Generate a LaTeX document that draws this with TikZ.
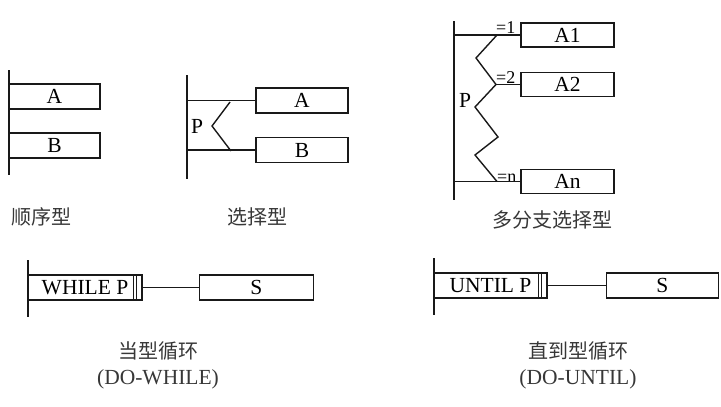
\documentclass[tikz,border=0pt]{standalone}
\usepackage{fontspec}
\setmainfont{Liberation Serif}
\newfontfamily\cjk{Noto Sans CJK SC}
\usetikzlibrary{positioning}
\definecolor{linecol}{RGB}{25, 25, 25}
\definecolor{captcol}{RGB}{55, 55, 55}

\begin{document}
\begin{tikzpicture}[x=1pt, y=-1pt, every node/.style={font=\fontsize{21.5}{24}\selectfont}]
    \tikzstyle{block} = [draw, rectangle, minimum width=92pt, minimum height=25pt, inner sep=0pt, text centered, draw=linecol, line width=1.4pt]
    \tikzstyle{bar} = [draw=linecol, line width=2pt]
    \tikzstyle{wire} = [draw=linecol, line width=1.4pt]
    \tikzstyle{tag} = [font=\fontsize{18}{20}\selectfont, inner sep=0.5pt, anchor=south east]
    \tikzstyle{caption} = [text=captcol, align=center, font=\cjk\fontsize{20}{26}\selectfont]

    \useasboundingbox (0,0) rectangle (721,407);

    % Nodes
    \node (seqA) [block, minimum width=91pt] at (54.5,96.5) {A};
    \node (seqB) [block, minimum width=91pt, below of=seqA, node distance=49pt] {B};
    \node (selA) [block] at (302,100.5) {A};
    \node (selB) [block, below of=selA, node distance=49.5pt] {B};
    \node (selP) at (197,126) {P};
    \node (mulA1) [block, minimum width=93pt, minimum height=24pt] at (567.5,35) {A1};
    \node (mulA2) [block, minimum width=93pt, minimum height=24pt, below of=mulA1, node distance=49.5pt] {A2};
    \node (mulAn) [block, minimum width=93pt, minimum height=24pt, below of=mulA2, node distance=97pt] {An};
    \node (mulP) at (465,100) {P};
    \node (tag1) [tag] at (516,34) {=1};
    \node (tag2) [tag] at (516,84) {=2};
    \node (tagn) [tag] at (517,183) {=n};
    \node (whileP) [block, minimum width=114pt] at (85,287.5) {WHILE P\hspace{9pt}};
    \node (whileS) [block, minimum width=114pt, right=56pt of whileP] {S};
    \node (untilP) [block, minimum width=113pt] at (490.5,285.5) {UNTIL P\hspace{9pt}};
    \node (untilS) [block, minimum width=112pt, right=58pt of untilP] {S};

    % Captions
    \node (seqCap) [caption] at (42,217) {顺序型};
    \node (selCap) [caption] at (257,217) {选择型};
    \node (mulCap) [caption] at (552,220) {多分支选择型};
    \node (whileCap) [caption] at (158,365) {当型循环\\{\rmfamily\fontsize{21.5}{26}\selectfont (DO-WHILE)}};
    \node (untilCap) [caption] at (578,365) {直到型循环\\{\rmfamily\fontsize{21.5}{26}\selectfont (DO-UNTIL)}};

    % Bars
    \coordinate (seqTop) at (9,70);
    \coordinate (seqBot) at (9,175);
    \coordinate (selTop) at (187,75);
    \coordinate (selBot) at (187,179);
    \coordinate (mulTop) at (454,21);
    \coordinate (mulBot) at (454,200);
    \coordinate (whileTop) at (28,260);
    \coordinate (whileBot) at (28,317);
    \coordinate (untilTop) at (434,258);
    \coordinate (untilBot) at (434,315);
    \draw [bar] (seqTop) -- (seqBot);
    \draw [bar] (selTop) -- (selBot);
    \draw [bar] (mulTop) -- (mulBot);
    \draw [bar] (whileTop) -- (whileBot);
    \draw [bar] (untilTop) -- (untilBot);

    % Lines
    \draw [wire] (selTop |- selA.west) -- (selA.west);
    \draw [wire] (selTop |- selB.west) -- (selB.west);
    \draw [wire] (230,102) -- (212,126) -- (231,151);
    \draw [wire] (mulTop |- mulA1.west) -- (mulA1.west);
    \draw [wire] (mulTop |- mulAn.west) -- (mulAn.west);
    \draw [wire] (496,84.5) -- (mulA2.west);
    \draw [wire] (497,35) -- (476,58) -- (496,84.5) -- (475,107) -- (498,137) -- (475,155) -- (497,181.5);
    \draw [wire] ([xshift=-9pt]whileP.north east) -- ([xshift=-9pt]whileP.south east);
    \draw [wire] ([xshift=-6.5pt]whileP.north east) -- ([xshift=-6.5pt]whileP.south east);
    \draw [wire] ([xshift=-9pt]untilP.north east) -- ([xshift=-9pt]untilP.south east);
    \draw [wire] ([xshift=-6.5pt]untilP.north east) -- ([xshift=-6.5pt]untilP.south east);
    \draw [wire] (whileP) -- (whileS);
    \draw [wire] (untilP) -- (untilS);
\end{tikzpicture}
\end{document}
